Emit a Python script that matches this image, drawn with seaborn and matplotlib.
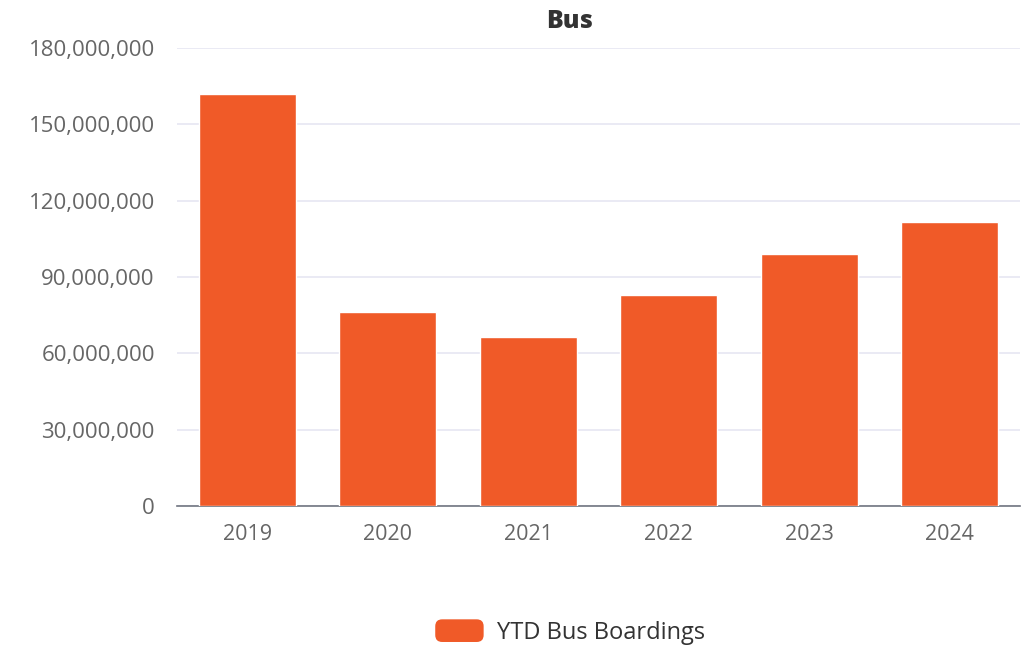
import pandas as pd
import matplotlib.pyplot as plt
import seaborn as sns
from matplotlib.ticker import FuncFormatter, MultipleLocator
from matplotlib.patches import FancyBboxPatch, Patch
from matplotlib.legend_handler import HandlerPatch

# Datos
anios = ["2019", "2020", "2021", "2022", "2023", "2024"]
abordajes = [161900000, 76300000, 66500000, 83000000, 98900000, 111500000]

df = pd.DataFrame({"Anio": anios, "Abordajes": abordajes})

sns.set_style("white")
plt.rcParams['font.family'] = ['Open Sans', 'DejaVu Sans']

NARANJA = "#F05A28"
GRIS_TEXTO = "#666666"

fig = plt.figure(figsize=(10.23, 6.47), dpi=100)
ax = fig.add_axes([177 / 1023, 1 - 506 / 647, (1020 - 177) / 1023, (506 - 48) / 647])

sns.barplot(data=df, x="Anio", y="Abordajes", color=NARANJA, saturation=1,
            width=0.69, ax=ax, zorder=3)

ax.set_xlim(-0.5, 5.5)
ax.set_ylim(0, 180000000)
ax.yaxis.set_major_locator(MultipleLocator(30000000))
ax.yaxis.set_major_formatter(FuncFormatter(lambda v, pos: f"{v:,.0f}"))
ax.grid(axis="y", color="#E6E6F2", linewidth=1.2, zorder=0)
ax.set_axisbelow(True)

for s in ["top", "right", "left"]:
    ax.spines[s].set_visible(False)
ax.spines["bottom"].set_color("#707580")
ax.spines["bottom"].set_linewidth(1.2)

ax.tick_params(axis="y", length=0, pad=16, labelsize=16, labelcolor=GRIS_TEXTO)
ax.tick_params(axis="x", length=0, pad=13, labelsize=15.5, labelcolor=GRIS_TEXTO)
ax.set_xlabel("")
ax.set_ylabel("")

fig.text(570 / 1023, 1 - 21 / 647, "Bus", ha="center", va="center",
         fontsize=18, fontweight="heavy", color="#333333")


# Leyenda con marcador redondeado
class HandlerRedondeado(HandlerPatch):
    def create_artists(self, legend, orig_handle, xdescent, ydescent,
                       width, height, fontsize, trans):
        p = FancyBboxPatch((-xdescent, -ydescent), width, height,
                           boxstyle="round,pad=0,rounding_size=5",
                           facecolor=orig_handle.get_facecolor(), edgecolor="none",
                           transform=trans)
        return [p]


mano = Patch(facecolor=NARANJA, label="YTD Bus Boardings")
fig.legend(handles=[mano], loc="center", bbox_to_anchor=(570 / 1023, 1 - 632 / 647),
           frameon=False, fontsize=17, handlelength=2.05, handleheight=1.1,
           handletextpad=0.55, labelcolor="#333333",
           handler_map={Patch: HandlerRedondeado()})

plt.savefig("out.png", dpi=100)
